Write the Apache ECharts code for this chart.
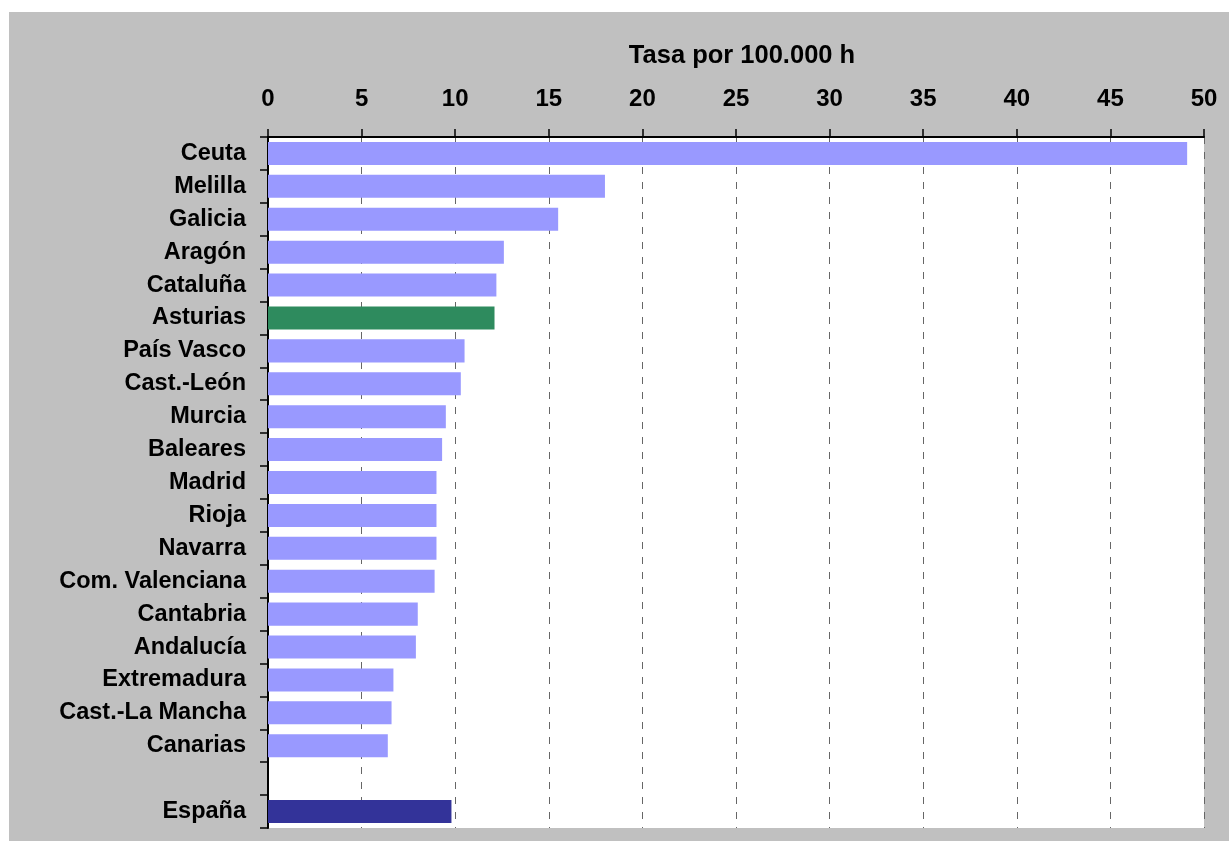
<!DOCTYPE html>
<html>
<head>
<meta charset="utf-8">
<title>Tasa por 100.000 h</title>
<script src="https://cdn.jsdelivr.net/npm/echarts@6/dist/echarts.min.js"></script>
<style>
  html, body { margin: 0; padding: 0; background: #ffffff; }
  #chart { width: 1229px; height: 841px; }
</style>
</head>
<body>
<div id="chart"></div>
<script>
// Regions, top to bottom; the empty entry leaves a gap before the national total
const categories = [
  'Ceuta', 'Melilla', 'Galicia', 'Aragón', 'Cataluña', 'Asturias',
  'País Vasco', 'Cast.-León', 'Murcia', 'Baleares', 'Madrid', 'Rioja',
  'Navarra', 'Com. Valenciana', 'Cantabria', 'Andalucía', 'Extremadura',
  'Cast.-La Mancha', 'Canarias', '', 'España'
];

// Rate per 100.000 inhabitants
const rates = [
  49.1, 18.0, 15.5, 12.6, 12.2, 12.1,
  10.5, 10.3, 9.5, 9.3, 9.0, 9.0,
  9.0, 8.9, 8.0, 7.9, 6.7,
  6.6, 6.4, null, 9.8
];

const axisTitle = 'Tasa por 100.000 h';
const xTicks = [0, 5, 10, 15, 20, 25, 30, 35, 40, 45, 50];

const FONT = '"Liberation Sans", Arial, Helvetica, sans-serif';
const colorDefault = '#9999FF';
const colorHighlight = '#2E8B5E';
const colorTotal = '#333399';

const chart = echarts.init(document.getElementById('chart'), null, { renderer: 'canvas' });

chart.setOption({
  backgroundColor: '#ffffff',
  animation: false,
  graphic: [{
    type: 'rect',
    z: -10,
    silent: true,
    shape: { x: 9, y: 12, width: 1229 - 9, height: 841 - 12 },
    style: { fill: '#C0C0C0' }
  }],
  title: {
    text: axisTitle,
    left: 737,
    top: 38,
    textAlign: 'center',
    textStyle: { fontFamily: FONT, fontWeight: 'bold', fontSize: 25.5, color: '#000' }
  },
  grid: {
    left: 268,
    right: 25,
    top: 137,
    bottom: 13,
    show: true,
    backgroundColor: '#ffffff',
    borderWidth: 0
  },
  xAxis: {
    type: 'value',
    position: 'top',
    min: xTicks[0],
    max: xTicks[xTicks.length - 1],
    interval: 5,
    axisLine: { show: true, lineStyle: { color: '#000', width: 2 } },
    axisTick: { show: true, length: 8, lineStyle: { color: '#000', width: 1.5 } },
    axisLabel: {
      margin: 26,
      fontFamily: FONT, fontWeight: 'bold', fontSize: 24, color: '#000'
    },
    splitLine: {
      show: true,
      lineStyle: { color: '#666666', width: 1, type: [7, 8] }
    }
  },
  yAxis: {
    type: 'category',
    data: categories,
    inverse: true,
    axisLine: { show: true, lineStyle: { color: '#000', width: 2 } },
    axisTick: { show: true, length: 8, lineStyle: { color: '#000', width: 1.5 } },
    axisLabel: {
      margin: 22,
      fontFamily: FONT, fontWeight: 'bold', fontSize: 23.5, color: '#000'
    },
    splitLine: { show: false }
  },
  series: [{
    type: 'bar',
    data: rates,
    barCategoryGap: '30%',
    itemStyle: {
      color: function (p) {
        if (p.name === 'Asturias') return colorHighlight;
        if (p.name === 'España') return colorTotal;
        return colorDefault;
      }
    }
  }]
});
</script>
</body>
</html>
